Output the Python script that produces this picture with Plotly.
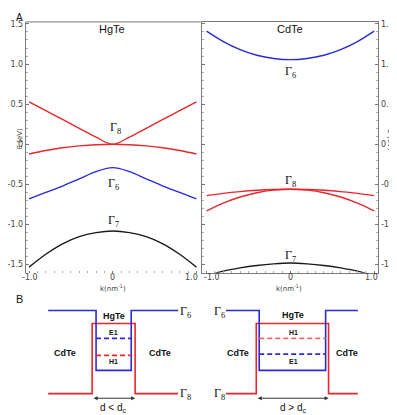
import plotly.graph_objects as go

# the page body adds an 8px margin, so the figure is drawn 8px smaller and offset
OFF = 8
W, H = 397 - OFF, 415 - OFF

# panel A: band dispersion (k in nm^-1, E in eV)
k_pts = [-1.0, -0.8, -0.6, -0.4, -0.2, 0.0, 0.2, 0.4, 0.6, 0.8, 1.0]

hgte_g8_lh = [0.53, 0.42, 0.31, 0.20, 0.09, 0.0, 0.09, 0.20, 0.31, 0.42, 0.53]
hgte_g8_hh = [-0.12, -0.077, -0.043, -0.02, -0.005, 0.0, -0.005, -0.02, -0.043, -0.077, -0.12]
hgte_g6 = [-0.68, -0.60, -0.52, -0.43, -0.34, -0.29, -0.34, -0.43, -0.52, -0.60, -0.68]
hgte_g7 = [-1.53, -1.37, -1.24, -1.15, -1.10, -1.08, -1.10, -1.15, -1.24, -1.37, -1.53]

cdte_g6 = [1.41, 1.28, 1.18, 1.11, 1.07, 1.055, 1.07, 1.11, 1.18, 1.28, 1.41]
cdte_g8_a = [-0.64, -0.611, -0.589, -0.573, -0.563, -0.56, -0.563, -0.573, -0.589, -0.611, -0.64]
cdte_g8_b = [-0.83, -0.733, -0.657, -0.603, -0.571, -0.56, -0.571, -0.603, -0.657, -0.733, -0.83]
cdte_g7 = [-1.64, -1.58, -1.54, -1.51, -1.49, -1.48, -1.49, -1.51, -1.54, -1.58, -1.64]

e_ticks = [1.5, 1.0, 0.5, 0.0, -0.5, -1.0, -1.5]
e_tick_text = ["1.5", "1.0", "0.5", "0", "-0.5", "-1.0", "-1.5"]
k_ticks = [-1.0, 0.0, 1.0]
k_tick_text = ["-1.0", "0", "1.0"]

# panel B: schematic band edges (x = layer position, y = energy, arb. units)
b1_g6_x = [43, 92, 92, 128, 128, 176]
b1_g6_y = [1.0, 1.0, 0.28, 0.28, 1.0, 1.0]
b1_g8_x = [43, 88, 88, 132, 132, 176]
b1_g8_y = [0.0, 0.0, 0.845, 0.845, 0.0, 0.0]
b1_e1 = 0.665
b1_h1 = 0.46

b2_g6_x = [225, 259, 259, 327, 327, 360]
b2_g6_y = [1.0, 1.0, 0.28, 0.28, 1.0, 1.0]
b2_g8_x = [225, 256, 256, 330, 330, 360]
b2_g8_y = [0.0, 0.0, 0.845, 0.845, 0.0, 0.0]
b2_h1 = 0.665
b2_e1 = 0.475

RED = "#e8262b"
BLUE = "#2a2ad8"
BLACK = "#1a1a1a"
GRID = "#7a7a7a"


def px(x):
    return (x - OFF) / W


def py(y):
    return 1 - (y - OFF) / H


fig = go.Figure()


def band(x, y, color, xa, ya):
    fig.add_trace(go.Scatter(x=x, y=y, mode="lines", line=dict(color=color, width=1.4, shape="spline"),
                             xaxis=xa, yaxis=ya, showlegend=False, hoverinfo="skip"))


band(k_pts, hgte_g8_lh, RED, "x", "y")
band(k_pts, hgte_g8_hh, RED, "x", "y")
band(k_pts, hgte_g6, BLUE, "x", "y")
band(k_pts, hgte_g7, BLACK, "x", "y")
band(k_pts, cdte_g6, BLUE, "x2", "y2")
band(k_pts, cdte_g8_a, RED, "x2", "y2")
band(k_pts, cdte_g8_b, RED, "x2", "y2")
band(k_pts, cdte_g7, BLACK, "x2", "y2")


def step(x, y, color, dash="solid"):
    fig.add_trace(go.Scatter(x=x, y=y, mode="lines", line=dict(color=color, width=1.6, dash=dash),
                             xaxis="x3", yaxis="y3", showlegend=False, hoverinfo="skip"))


step(b1_g8_x, b1_g8_y, RED)
step(b1_g6_x, b1_g6_y, BLUE)
step([b1_g6_x[2], b1_g6_x[3]], [b1_e1, b1_e1], BLUE, "5px,3px")
step([b1_g6_x[2], b1_g6_x[3]], [b1_h1, b1_h1], RED, "5px,3px")
step(b2_g8_x, b2_g8_y, RED)
step(b2_g6_x, b2_g6_y, BLUE)
step([b2_g6_x[2], b2_g6_x[3]], [b2_h1, b2_h1], "#f06a6a", "5px,3px")
step([b2_g6_x[2], b2_g6_x[3]], [b2_e1, b2_e1], BLUE, "5px,3px")

tickfont = dict(family="DejaVu Sans", size=8, color="#444")
common_x = dict(range=[-1.04, 1.05], tickvals=k_ticks, showticklabels=False,
                ticks="inside", ticklen=2, tickcolor=GRID, showgrid=False, zeroline=False,
                minor=dict(dtick=0.1, ticks="inside", ticklen=2, tickcolor="#aaa"))
common_y = dict(range=[-1.60, 1.525], tickvals=e_ticks, ticktext=e_tick_text, tickfont=tickfont,
                ticks="inside", ticklen=3, tickcolor=GRID, showgrid=False, zeroline=False,
                minor=dict(dtick=0.1, ticks="inside", ticklen=2, tickcolor="#aaa"))

fig.update_layout(
    width=W, height=H,
    margin=dict(l=0, r=0, t=0, b=0),
    paper_bgcolor="white", plot_bgcolor="white",
    xaxis=dict(domain=[px(20), px(199)], anchor="y", showline=False, **common_x),
    yaxis=dict(domain=[py(272), py(20)], anchor="x", showline=True, linecolor=GRID, linewidth=1, **common_y),
    xaxis2=dict(domain=[px(200), px(381)], anchor="y2", showline=True, mirror=True, linecolor=GRID,
                linewidth=1, **{**common_x, "range": [-1.06, 1.05]}),
    yaxis2=dict(domain=[py(272), py(20)], anchor="x2", side="right", showline=True, mirror="ticks",
                linecolor=GRID, linewidth=1, **common_y),
    xaxis3=dict(domain=[0, 1], anchor="y3", range=[OFF, 397], visible=False),
    yaxis3=dict(domain=[0, py(290)], anchor="x3", range=[-0.257, 1.24], visible=False),
)

# top border of left panel
fig.add_shape(type="line", xref="paper", yref="paper", x0=px(20), x1=px(199), y0=py(20), y1=py(20),
              line=dict(color=GRID, width=1))


def txt(x, y, s, size=10, family="Liberation Sans", color="#111", angle=0, xanchor="center",
        yanchor="middle"):
    fig.add_annotation(x=x, y=y, xref="paper", yref="paper", text=s, showarrow=False, textangle=angle,
                       font=dict(family=family, size=size, color=color), xanchor=xanchor, yanchor=yanchor)


# k tick labels, nudged inward as in the original so neighbouring panels don't collide
for xa, shifts in [("x", [1, 0, -5]), ("x2", [5, 0, -3])]:
    for kv, kt, sh in zip(k_ticks, k_tick_text, shifts):
        fig.add_annotation(x=kv, y=py(277), xref=xa, yref="paper", text=kt, showarrow=False, xshift=sh,
                           font=tickfont, xanchor="center", yanchor="middle")

GS = "Liberation Serif"
txt(px(OFF), py(OFF), "A", 10, xanchor="left", yanchor="top")
txt(px(OFF), py(298), "B", 11, xanchor="left")
txt(px(108), py(27), "HgTe", 11)
txt(px(291), py(27), "CdTe", 11)
txt(px(112), py(127), "Γ<sub>8</sub>", 12, GS)
txt(px(110), py(183), "Γ<sub>6</sub>", 12, GS)
txt(px(110), py(220), "Γ<sub>7</sub>", 12, GS)
txt(px(291), py(70), "Γ<sub>6</sub>", 12, GS)
txt(px(291), py(180), "Γ<sub>8</sub>", 12, GS)
txt(px(291), py(255), "Γ<sub>7</sub>", 12, GS)
txt(px(109), py(287), "k(nm<sup>-1</sup>)", 7, "DejaVu Sans", "#444")
txt(px(290), py(287), "k(nm<sup>-1</sup>)", 7, "DejaVu Sans", "#444")
txt(px(OFF), py(138), "E (eV)", 7, "DejaVu Sans", "#444", -90, xanchor="left")
txt(px(393), py(138), "E (eV)", 7, "DejaVu Sans", "#444", 90)

# panel B labels
txt(px(110), py(316), "<b>HgTe</b>", 9)
txt(px(110), py(332), "<b>E1</b>", 7)
txt(px(110), py(361), "<b>H1</b>", 7)
txt(px(60), py(353), "<b>CdTe</b>", 9)
txt(px(157), py(353), "<b>CdTe</b>", 9)
txt(px(184), py(311), "Γ<sub>6</sub>", 12, GS)
txt(px(184), py(394), "Γ<sub>8</sub>", 12, GS)
txt(px(110), py(408), "d < d<sub>c</sub>", 10)

txt(px(294), py(315), "<b>HgTe</b>", 9)
txt(px(294), py(332), "<b>H1</b>", 7)
txt(px(294), py(361), "<b>E1</b>", 7)
txt(px(237), py(353), "<b>CdTe</b>", 9)
txt(px(349), py(353), "<b>CdTe</b>", 9)
txt(px(218), py(311), "Γ<sub>6</sub>", 12, GS)
txt(px(218), py(394), "Γ<sub>8</sub>", 12, GS)
txt(px(294), py(408), "d > d<sub>c</sub>", 10)

for x0, x1 in [(b1_g8_x[1], b1_g8_x[3]), (b2_g8_x[1], b2_g8_x[3])]:
    fig.add_annotation(x=x1, y=-0.055, ax=x0, ay=-0.055, xref="x3", yref="y3", axref="x3", ayref="y3",
                       text="", showarrow=True, arrowhead=2, startarrowhead=2, arrowside="end+start",
                       arrowsize=0.8, arrowwidth=1, arrowcolor="#333")

fig.write_html("out.html")
